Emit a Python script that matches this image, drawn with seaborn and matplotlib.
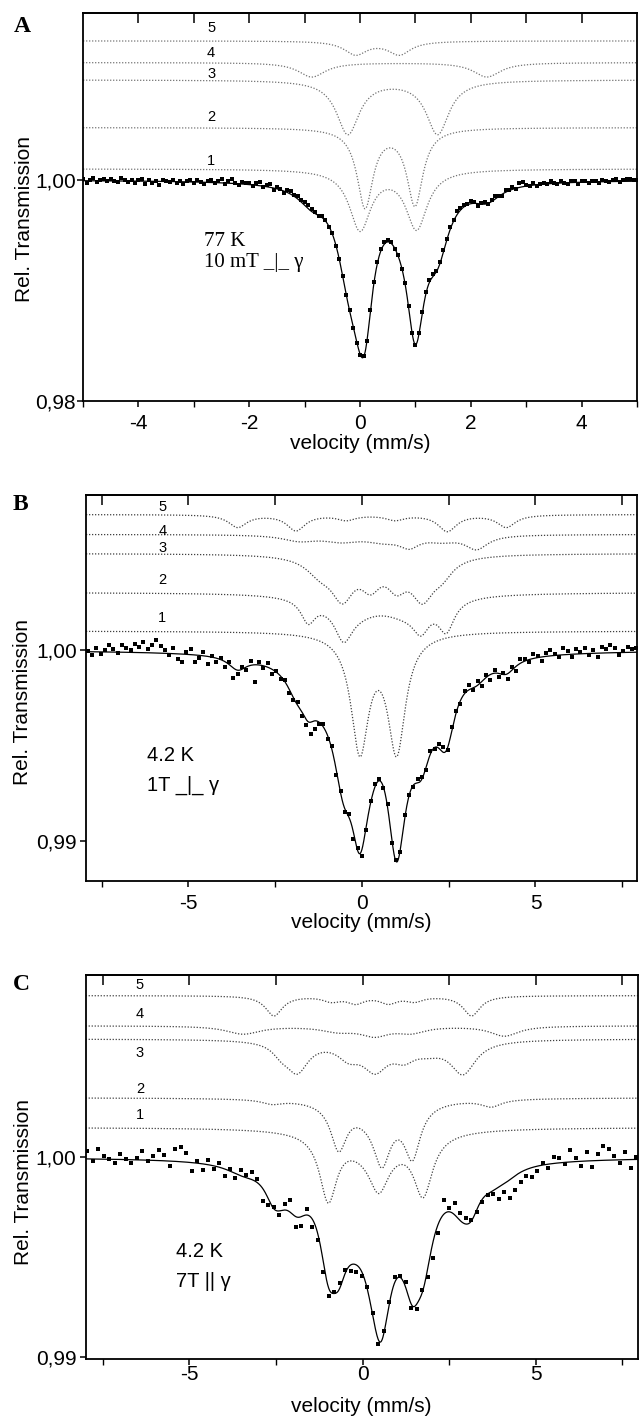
import numpy as np
import matplotlib
matplotlib.use("Agg")
import matplotlib.pyplot as plt
from matplotlib.ticker import FixedLocator, FuncFormatter, NullFormatter
import seaborn as sns

# ---------------------------------------------------------------
# data
# component lines: (position mm/s, depth x1e-3, half width mm/s)
# residuals of the measured points from the fit, x1e-5
# ---------------------------------------------------------------
A_BASE = [1.00100, 1.00474, 1.00905, 1.01062, 1.01258]
A_LINES = [
    [(0.00, 5.4, 0.235), (1.02, 5.3, 0.235)],
    [(0.09, 7.1, 0.175), (0.99, 6.9, 0.175)],
    [(-0.22, 4.85, 0.25), (1.40, 4.85, 0.25)],
    [(-0.87, 1.3, 0.30), (2.29, 1.3, 0.30)],
    [(-0.08, 1.2, 0.25), (0.71, 1.2, 0.25)],
]
A_RESID = [12, -18, 5, 22, -10, 8, 15, -5, 20, 3, -12, 28, 10, -8, 14, -20,
           6, 18, -25, 10, -15, 2, -30, 12, 8, -5, 16, -10, 4, -22, 9, 14,
           -12, 20, 5, -18, 10, 25, -6, 14, 32, -8, 18, 40, 6, -14, 22, 10,
           16, -10, 24, 30, -4, 12, 28, -16, 18, 8, -20, 22, 30, 14, 26, 20,
           28, 32, 18, 10, -6, 12, 8, -10, 6, -8, 4, 10, -6, 8, -12, -14,
           -10, 6, -4, 12, 8, 10, 14, 22, 18, 12, -6, 8, -10, 4, 10, -8,
           -6, 10, 4, 18, 20, 28, 10, 24, 30, 18, 26, 14, 34, 22, 16, 10,
           24, 12, -18, 8, 20, -10, 14, 26, 6, -12, 18, 10, 22, -8, 40, 38,
           10, -6, 16, -14, 8, 12, -4, 20, 6, -10, 14, 2, -8, 18, 10, -12,
           8, 14, -6, 12, 4, -10, 16, 6, -8, 12, 20, -4, 10, 18, 24, 8, 14]

B_BASE = [1.00100, 1.00302, 1.00506, 1.00606, 1.00710]
B_LINES = [
    [(-0.06, 6.1, 0.31), (1.00, 6.1, 0.31)],
    [(-1.55, 1.15, 0.25), (-0.53, 1.5, 0.30), (1.70, 1.15, 0.28),
     (2.43, 1.55, 0.28), (-0.30, 0.9, 0.9), (1.30, 0.9, 0.9)],
    [(-1.20, 0.8, 0.5), (-0.56, 2.0, 0.4), (0.25, 1.3, 0.35),
     (1.00, 1.3, 0.35), (1.74, 2.0, 0.4), (2.30, 0.8, 0.4)],
    [(-1.80, 0.3, 0.6), (-0.60, 0.3, 0.6), (0.60, 0.3, 0.6),
     (1.36, 0.55, 0.35), (2.30, 0.25, 0.5), (3.30, 0.72, 0.4)],
    [(-3.58, 0.65, 0.32), (-1.90, 0.82, 0.32), (-0.45, 0.26, 0.32),
     (0.95, 0.26, 0.32), (2.46, 0.86, 0.32), (4.16, 0.65, 0.32)],
]
B_RESID = [5, -15, 20, -10, 10, 35, 15, -5, 40, 25, 10, 45, 30, 55, 20, 40,
           70, 35, 15, -10, 30, -25, -40, 10, 30, -35, -15, 20, -40, 5, -20, 10,
           -30, 15, -50, -20, 10, -15, 25, -90, 15, -10, 20, -25, 5, -15, 10, -20,
           -10, 15, -20, -30, -60, -45, -10, 15, -15, 20, -25, 10, -15, 20, -35, 15,
           -35, -20, 10, 15, 10, -5, 20, -15, 10, -20, 15, 5, -10, 20, 10, -15,
           15, -10, 25, 30, -15, 20, 10, -20, 15, 25, -10, 20, -25, 10, -30, 15,
           -20, 10, -30, 15, -25, 20, 10, -15, 25, 10, -20, 15, 30, 5, -10, 35,
           20, -15, 25, 10, 30, -10, 15, -20, 30, 20, 40, 25, -15, 10, 30, 15,
           20]

C_BASE = [1.00149, 1.00298, 1.00592, 1.00658, 1.00809]
C_LINES = [
    [(-0.99, 3.25, 0.30), (0.47, 1.8, 0.33), (1.75, 2.95, 0.33), (0.40, 1.2, 1.0)],
    [(-2.61, 0.2, 0.35), (-0.69, 2.2, 0.28), (0.56, 2.2, 0.28),
     (1.44, 2.5, 0.28), (0.45, 1.0, 0.85), (3.72, 0.35, 0.35)],
    [(-2.35, 0.45, 0.3), (-1.89, 1.5, 0.4), (-0.40, 0.7, 0.4), (0.36, 1.35, 0.45),
     (1.20, 0.7, 0.4), (1.90, 0.4, 0.5), (2.90, 1.62, 0.45)],
    [(-3.45, 0.4, 0.6), (-0.70, 0.25, 0.6), (0.35, 0.45, 0.5),
     (1.40, 0.3, 0.5), (4.10, 0.5, 0.5)],
    [(-2.56, 1.0, 0.3), (-0.90, 0.25, 0.3), (-0.20, 0.35, 0.3),
     (0.75, 0.35, 0.3), (1.50, 0.25, 0.3), (3.15, 1.0, 0.3)],
]
C_RESID = [40, -10, 50, 15, 0, -20, 25, 5, -15, 10,
           45, -5, 20, 55, 30, -25, 60, 75, 45, -40,
           10, -30, 25, -15, 20, -35, 10, -20, 30, 15,
           40, 20, -60, -30, 10, -20, 30, 60, -50, -45,
           30, -40, -30, -50, -40, 10, 25, 15, -30, -35,
           -20, 10, 10, -25, 15, 15, 30, 5, 25, -20,
           -25, 15, -35, -80, -50, 70, 20, 60, 40, 30,
           5, -10, -15, -5, -20, -60, -40, -90, -70, -50,
           -30, -45, -25, 10, -20, 30, 25, -10, 60, 20,
           -25, 45, -30, 35, 70, 55, 20, -15, 40, -40, 10]

COMP_NAMES = ["1", "2", "3", "4", "5"]

SANS = ["Liberation Sans", "DejaVu Sans"]
SERIF = ["Liberation Serif", "DejaVu Serif"]


def dips(v, lines):
    out = np.zeros_like(v)
    for p, d, g in lines:
        out += d * 1e-3 / (1.0 + ((v - p) / g) ** 2)
    return out


def comma(v, pos=None):
    return f"{v:.2f}".replace(".", ",")


def draw_panel(ax, base, lines, resid, cfg):
    x0, x1 = cfg["xlim"]
    grid = np.linspace(x0, x1, 1500)
    total = np.zeros_like(grid)
    for b, ln in zip(base, lines):
        d = dips(grid, ln)
        total += d
        sns.lineplot(x=grid, y=b - d, ax=ax, color=cfg["dotcolor"], lw=0.9,
                     linestyle=(0, (1, 1.4)), estimator=None, sort=False)

    # measured points
    vel = np.linspace(cfg["data_x"][0], cfg["data_x"][1], len(resid))
    tot_pts = np.zeros_like(vel)
    for ln in lines:
        tot_pts += dips(vel, ln)
    meas = 1.0 - tot_pts + np.array(resid) * 1e-5
    sns.scatterplot(x=vel, y=meas, ax=ax, marker="s", s=cfg["ms"],
                    color="black", linewidth=0, zorder=3)
    sns.lineplot(x=grid, y=1.0 - total, ax=ax, color="black", lw=0.9,
                 estimator=None, sort=False, zorder=4)

    ax.set_xlim(x0, x1)
    ax.set_ylim(*cfg["ylim"])
    for s in ax.spines.values():
        s.set_linewidth(1.3)
        s.set_visible(True)

    ax.xaxis.set_major_locator(FixedLocator(cfg["xmajor"]))
    ax.xaxis.set_minor_locator(FixedLocator(cfg["xminor"]))
    ax.yaxis.set_major_locator(FixedLocator(cfg["yticks"]))
    ax.yaxis.set_major_formatter(FuncFormatter(comma))
    ax.xaxis.set_major_formatter(FuncFormatter(lambda v, p: f"{v:g}"))
    ax.tick_params(axis="x", which="major", direction="out", length=4,
                   width=1.1, pad=cfg["xpad"], labelsize=15, top=False)
    ax.tick_params(axis="x", which="minor", direction="out", length=4,
                   width=1.0, top=False)
    ax.tick_params(axis="y", direction="out", length=4, width=1.1,
                   pad=cfg["ypad"], labelsize=15, right=False)

    top = ax.secondary_xaxis("top")
    top.xaxis.set_major_locator(FixedLocator(cfg["xtop"]))
    top.xaxis.set_major_formatter(NullFormatter())
    top.tick_params(direction="in", length=7, width=1.1)
    top.spines["top"].set_linewidth(1.3)

    ax.set_xlabel("velocity (mm/s)", fontsize=15)
    ax.set_ylabel("Rel. Transmission", fontsize=15)
    ax.xaxis.set_label_coords(0.5, cfg["xlab_y"])
    ax.yaxis.set_label_coords(cfg["ylab_x"], cfg["ylab_y"])

    for name, ly in zip(COMP_NAMES, cfg["num_y"]):
        ax.text(cfg["num_x"], ly, name, fontsize=10.5, family=SANS,
                color="black", ha="center", va="center")

    for (tx, ty), txt in zip(cfg["note_xy"], cfg["notes"]):
        ax.text(tx, ty, txt, transform=ax.transAxes, fontsize=cfg["note_fs"],
                family=cfg["note_family"], color="black", ha="left", va="center")


sns.set_theme(style="ticks")
plt.rcParams["font.family"] = SANS
plt.rcParams["text.color"] = "black"
plt.rcParams["axes.edgecolor"] = "black"
plt.rcParams["xtick.color"] = "black"
plt.rcParams["ytick.color"] = "black"
plt.rcParams["axes.labelcolor"] = "black"

fig = plt.figure(figsize=(6.39, 14.18), dpi=100)
fig.patch.set_facecolor("white")

panels = [
    dict(rect=[0.130, 0.7172, 0.867, 0.2736], letter="A", letter_xy=(22, 27),
         base=A_BASE, lines=A_LINES, resid=A_RESID,
         xlim=(-5, 5), data_x=(-5, 5), ylim=(0.98, 1.0151), ms=6,
         xmajor=[-4, -2, 0, 2, 4], xminor=[-5, -3, -1, 1, 3, 5],
         xtop=[-4, -3, -2, -1, 0, 1, 2, 3, 4], yticks=[0.98, 1.00],
         xpad=5.5, ypad=1.0, xlab_y=-0.085, ylab_x=-0.089, ylab_y=0.47,
         dotcolor="0.45", num_x=-2.69,
         num_y=[1.00174, 1.00567, 1.00958, 1.01152, 1.01372],
         note_xy=[(0.218, 0.41), (0.218, 0.358)],
         notes=["77 K", "10 mT _|_ \u03b3"], note_fs=15, note_family=SERIF),
    dict(rect=[0.1346, 0.3787, 0.862, 0.2722], letter="B", letter_xy=(20, 505),
         base=B_BASE, lines=B_LINES, resid=B_RESID,
         xlim=(-7.95, 7.92), data_x=(-7.9, 7.9), ylim=(0.98792, 1.00812), ms=8,
         xmajor=[-5, 0, 5], xminor=[-7.5, -2.5, 2.5, 7.5],
         xtop=[-7.5, -5, -2.5, 0, 2.5, 5, 7.5], yticks=[0.99, 1.00],
         xpad=5.5, ypad=2.5, xlab_y=-0.083, ylab_x=-0.098, ylab_y=0.464,
         dotcolor="0.25", num_x=-5.75,
         num_y=[1.0017, 1.00366, 1.00537, 1.00623, 1.0075],
         note_xy=[(0.11, 0.326), (0.11, 0.249)],
         notes=["4.2 K", "1T _|_ \u03b3"], note_fs=14.5, note_family=SANS),
    dict(rect=[0.134, 0.0416, 0.864, 0.2708], letter="C", letter_xy=(21, 985),
         base=C_BASE, lines=C_LINES, resid=C_RESID,
         xlim=(-8.0, 7.95), data_x=(-7.95, 7.9), ylim=(0.9899, 1.00912), ms=8,
         xmajor=[-5, 0, 5], xminor=[-7.5, -2.5, 2.5, 7.5],
         xtop=[-7.5, -5, -2.5, 0, 2.5, 5, 7.5], yticks=[0.99, 1.00],
         xpad=0.5, ypad=2.5, xlab_y=-0.098, ylab_x=-0.095, ylab_y=0.46,
         dotcolor="0.25", num_x=-6.43,
         num_y=[1.0021, 1.0034, 1.00522, 1.00718, 1.00862],
         note_xy=[(0.163, 0.281), (0.163, 0.203)],
         notes=["4.2 K", "7T || \u03b3"], note_fs=14.5, note_family=SANS),
]

for cfg in panels:
    ax = fig.add_axes(cfg["rect"])
    ax.set_facecolor("white")
    draw_panel(ax, cfg["base"], cfg["lines"], cfg["resid"], cfg)
    lx, ly = cfg["letter_xy"]
    fig.text(lx / 639, 1 - ly / 1418, cfg["letter"], fontsize=17,
             fontweight="bold", family=SERIF, color="black",
             ha="center", va="center")

fig.savefig("out.png", dpi=100, facecolor="white")
